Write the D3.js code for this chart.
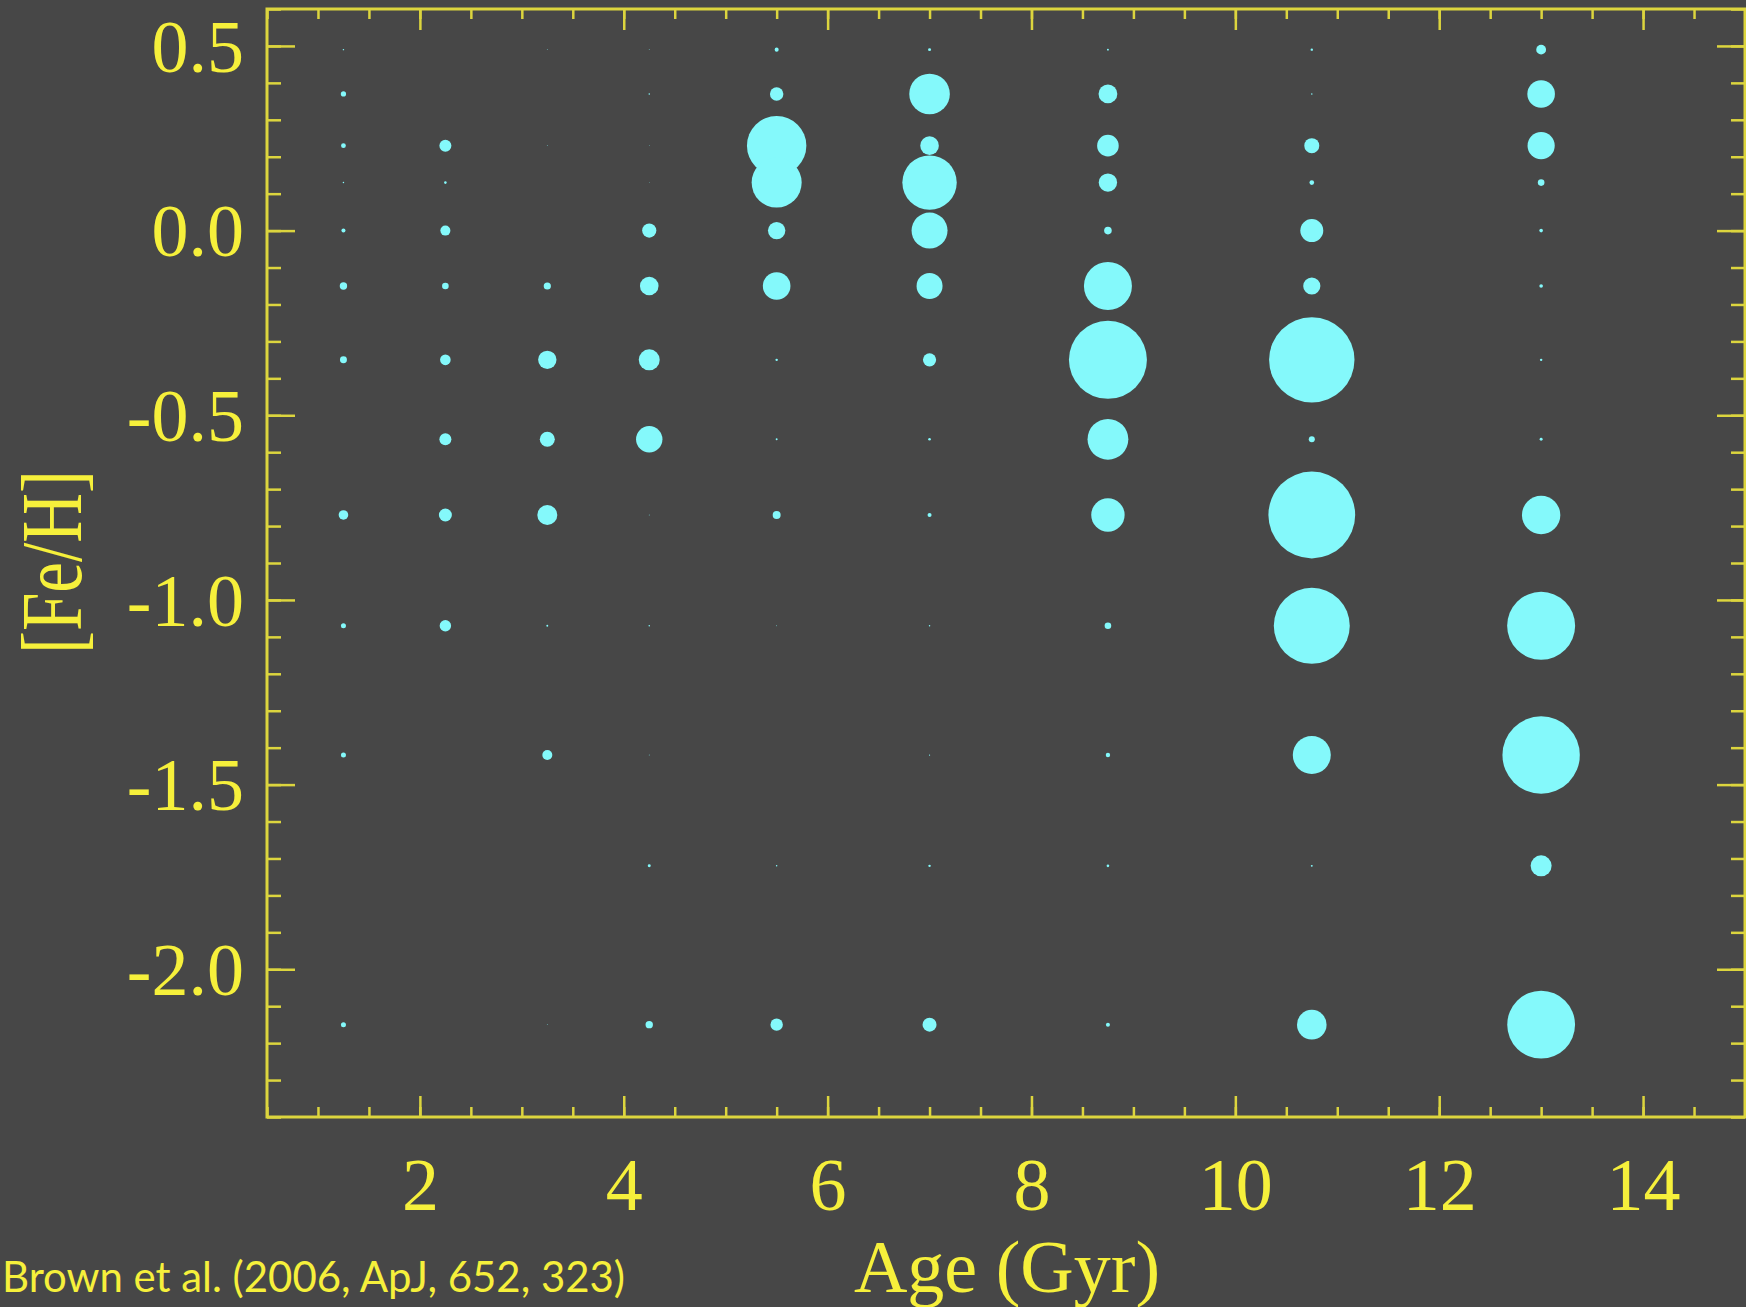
<!DOCTYPE html>
<html>
<head>
<meta charset="utf-8">
<script src="https://cdn.jsdelivr.net/npm/d3@7"></script>
<style>
  html, body { margin: 0; padding: 0; background: #474747; }
  svg { display: block; }
</style>
</head>
<body>
<svg id="chart" width="1746" height="1307"></svg>
<script>
// Age bins (Gyr) and [Fe/H] bins of the star-formation-history grid
const ages = [1.25, 2.25, 3.25, 4.25, 5.5, 7.0, 8.75, 10.75, 13.0];
const fehBins = [0.49, 0.37, 0.23, 0.13, 0.0, -0.15, -0.35, -0.565, -0.77, -1.07, -1.42, -1.72, -2.15];

// Percentage of stellar mass in each bin; one row per age, one entry per [Fe/H] bin
const massFraction = [
  [0.003, 0.037, 0.031, 0.003, 0.022, 0.074, 0.066, 0,     0.124, 0.034, 0.034, 0,     0.034],
  [0,     0,     0.194, 0.009, 0.135, 0.059, 0.152, 0.194, 0.228, 0.176, 0,     0,     0    ],
  [0.001, 0,     0.001, 0,     0,     0.070, 0.457, 0.304, 0.540, 0.005, 0.135, 0,     0.001],
  [0.001, 0.003, 0.0005,0.0005,0.272, 0.467, 0.596, 0.941, 0.001, 0.003, 0.001, 0.012, 0.074],
  [0.022, 0.243, 4.77,  3.38,  0.409, 1.03,  0.008, 0.005, 0.086, 0.001, 0,     0.003, 0.208],
  [0.012, 2.226, 0.467, 3.997, 1.750, 0.913, 0.235, 0.009, 0.022, 0.003, 0.002, 0.008, 0.265],
  [0.005, 0.477, 0.630, 0.457, 0.078, 3.112, 8.217, 2.248, 1.507, 0.059, 0.026, 0.009, 0.022],
  [0.008, 0.003, 0.304, 0.029, 0.714, 0.400, 9.850, 0.049, 10.176,7.801, 1.950, 0.005, 1.183],
  [0.130, 1.029, 0.999, 0.059, 0.018, 0.018, 0.008, 0.012, 1.992, 6.245, 8.091, 0.596, 6.209]
];

// Axis ticks and labels
const xMajor = [2, 4, 6, 8, 10, 12, 14];
const xTickLabels = ["2", "4", "6", "8", "10", "12", "14"];
const xMinor = d3.range(0.5, 15.01, 0.5);
const yMajor = [0.5, 0.0, -0.5, -1.0, -1.5, -2.0];
const yTickLabels = ["0.5", "0.0", "-0.5", "-1.0", "-1.5", "-2.0"];
const yMinor = d3.range(-24, 7).map(v => v / 10);

const xTitle = "Age (Gyr)";
const yTitle = "[Fe/H]";
const citation = "Brown et al. (2006, ApJ, 652, 323)";

const axisColor = "#dcd53e";
const textColor = "#f6f03b";
const dotColor = "#84f9fb";
const serif = "'Liberation Serif', 'Times New Roman', serif";

const plot = { left: 267, right: 1745, top: 9, bottom: 1117 };

const svg = d3.select("#chart");

const x = d3.scaleLinear().domain([0.5, 15]).range([plot.left, plot.right]);
const y = d3.scaleLinear().domain([-2.4, 0.6]).range([plot.bottom, plot.top]);
const r = d3.scaleSqrt().domain([0, 10]).range([0, 43.02]);

// Bubbles
const cells = [];
ages.forEach((age, i) => {
  fehBins.forEach((feh, j) => {
    cells.push({ age, feh, value: massFraction[i][j] });
  });
});

svg.append("g")
  .selectAll("circle")
  .data(cells.filter(d => d.value > 0))
  .join("circle")
  .attr("cx", d => x(d.age))
  .attr("cy", d => y(d.feh))
  .attr("r", d => r(d.value))
  .attr("fill", dotColor);

// Axes: all ticks point into the plot box
function styleAxis(g) {
  g.select(".domain").remove();
  g.selectAll(".tick line").attr("stroke", axisColor).attr("stroke-width", 2.5);
  g.selectAll(".tick text")
    .attr("fill", textColor)
    .style("font-family", serif)
    .style("font-size", "74px");
}

svg.append("g").attr("transform", `translate(0,${plot.bottom})`)
  .call(d3.axisBottom(x).tickValues(xMinor).tickSize(-10).tickFormat(""))
  .call(styleAxis);
svg.append("g").attr("transform", `translate(0,${plot.bottom})`)
  .call(d3.axisBottom(x).tickValues(xMajor).tickSize(-21).tickPadding(40)
    .tickFormat((d, i) => xTickLabels[i]))
  .call(styleAxis);

svg.append("g").attr("transform", `translate(0,${plot.top})`)
  .call(d3.axisTop(x).tickValues(xMinor).tickSize(-10).tickFormat(""))
  .call(styleAxis);
svg.append("g").attr("transform", `translate(0,${plot.top})`)
  .call(d3.axisTop(x).tickValues(xMajor).tickSize(-21).tickFormat(""))
  .call(styleAxis);

svg.append("g").attr("transform", `translate(${plot.left},0)`)
  .call(d3.axisLeft(y).tickValues(yMinor).tickSize(-14).tickFormat(""))
  .call(styleAxis);
svg.append("g").attr("transform", `translate(${plot.left},0)`)
  .call(d3.axisLeft(y).tickValues(yMajor).tickSize(-28).tickPadding(23)
    .tickFormat((d, i) => yTickLabels[i]))
  .call(styleAxis)
  .call(g => g.selectAll(".tick text").attr("dy", "0.34em"));

svg.append("g").attr("transform", `translate(${plot.right},0)`)
  .call(d3.axisRight(y).tickValues(yMinor).tickSize(-14).tickFormat(""))
  .call(styleAxis);
svg.append("g").attr("transform", `translate(${plot.right},0)`)
  .call(d3.axisRight(y).tickValues(yMajor).tickSize(-28).tickFormat(""))
  .call(styleAxis);

// Plot frame
svg.append("rect")
  .attr("x", plot.left).attr("y", plot.top)
  .attr("width", plot.right - plot.left).attr("height", plot.bottom - plot.top)
  .attr("fill", "none").attr("stroke", axisColor).attr("stroke-width", 3);

// Titles
svg.append("text")
  .attr("x", 1007).attr("y", 1292)
  .attr("text-anchor", "middle")
  .attr("fill", textColor)
  .style("font-family", serif).style("font-size", "74px")
  .text(xTitle);

svg.append("text")
  .attr("transform", "translate(81,562) rotate(-90)")
  .attr("text-anchor", "middle")
  .attr("fill", textColor)
  .attr("textLength", 184).attr("lengthAdjust", "spacingAndGlyphs")
  .style("font-family", serif).style("font-size", "86px")
  .text(yTitle);

svg.append("text")
  .attr("x", 2).attr("y", 1292)
  .attr("fill", textColor)
  .attr("textLength", 623).attr("lengthAdjust", "spacingAndGlyphs")
  .style("font-family", "Lato, 'Open Sans', sans-serif").style("font-size", "42px")
  .text(citation);
</script>
</body>
</html>
